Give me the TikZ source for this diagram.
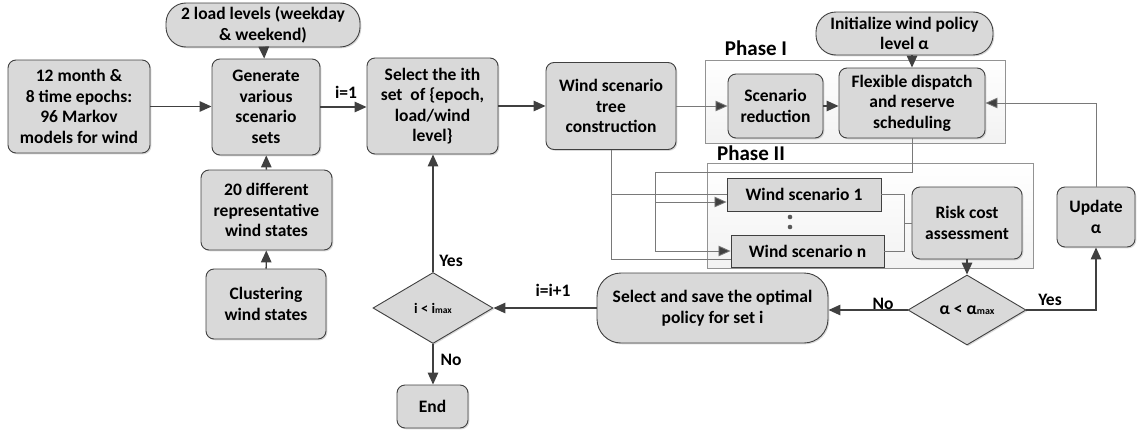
\documentclass[tikz,border=0pt]{standalone}
\usepackage{fontspec}
\setmainfont{Carlito}
\usetikzlibrary{arrows.meta,shapes.geometric,shadows,calc}
\begin{document}
\begin{tikzpicture}[x=1pt,y=-1pt,
  base/.style={font=\bfseries\fontsize{17.5}{20.5}\selectfont, text=black, align=center},
  box/.style={base, draw=black!75, fill=gray!30, line width=0.9pt, rounded corners=8pt, inner sep=0pt,
    drop shadow={shadow xshift=1.3pt, shadow yshift=-1.3pt, opacity=0.3, fill=gray}},
  pill/.style={box, rounded corners=20pt},
  sharp/.style={box, rounded corners=0pt},
  dia/.style={base, diamond, draw=black!75, fill=gray!30, line width=0.9pt, inner sep=0pt, aspect=1.7,
    drop shadow={shadow xshift=1.3pt, shadow yshift=-1.3pt, opacity=0.3, fill=gray}},
  phase/.style={draw=gray!85, top color=white, bottom color=gray!10, line width=0.8pt, inner sep=0pt,
    drop shadow={shadow xshift=1.3pt, shadow yshift=-1.3pt, opacity=0.2, fill=gray}},
  lbl/.style={base},
  conn/.style={draw=black!75, line width=1.4pt, -{Triangle[length=12pt,width=10.5pt]}},
  thinl/.style={draw=gray!95!black, line width=0.8pt},
  thina/.style={thinl, -{Triangle[length=12pt,width=10.5pt]}, arrows={[fill=black!75]}}
]
\useasboundingbox (0,0) rectangle (1137,431);

% phase frames
\node[phase, minimum width=300pt, minimum height=83pt] (ph1) at (855,101.5) {};
\node[phase, minimum width=326pt, minimum height=105pt] (ph2) at (870,215.5) {};
\node[lbl, font=\bfseries\fontsize{21}{22}\selectfont] (p1) at (756,48) {Phase I};
\node[lbl, font=\bfseries\fontsize{21}{22}\selectfont] (p2) at (751,153) {Phase II};

% nodes
\node[box, minimum width=142pt, minimum height=93pt] (A) at (79,106.5) {12 month \&\\8 time epochs:\\96 Markov\\models for wind};
\node[pill, minimum width=194pt, minimum height=44pt] (L) at (263,25) {2 load levels (weekday\\\& weekend)};
\node[box, minimum width=108pt, minimum height=96pt] (G) at (266,107) {Generate\\various\\scenario\\sets};
\node[box, minimum width=131pt, minimum height=80pt] (R) at (266.5,210) {20 different\\representative\\wind states};
\node[box, minimum width=120pt, minimum height=70pt] (C) at (266,304) {Clustering\\wind states};
\node[box, minimum width=131pt, minimum height=96pt] (S) at (432.5,106) {Select the ith\\set\ \ of \{epoch,\\load/wind\\level\}};
\node[box, minimum width=130pt, minimum height=87pt] (T) at (611,106) {Wind scenario\\tree\\construction};
\node[box, minimum width=95pt, minimum height=64pt] (SR) at (775.5,106) {Scenario\\reduction};
\node[box, minimum width=146pt, minimum height=70pt] (F) at (912,103) {Flexible dispatch\\and reserve\\scheduling};
\node[pill, minimum width=177pt, minimum height=43pt] (I) at (904.5,33.5) {Initialize wind policy\\level α};
\node[sharp, minimum width=154pt, minimum height=33pt] (W1) at (804,194.5) {Wind scenario 1};
\node[sharp, minimum width=153pt, minimum height=32pt] (WN) at (807.5,251) {Wind scenario n};
\fill[gray!70!black] (790,217) circle (2.3pt) (790,227) circle (2.3pt);
\node[box, minimum width=110pt, minimum height=72pt] (RC) at (967,223) {Risk cost\\assessment};
\node[box, minimum width=78pt, minimum height=60pt] (U) at (1096,217) {Update\\α};
\node[dia, minimum width=118pt, minimum height=70pt] (D2) at (967,310) {α < α{\fontsize{10}{10}\selectfont max}};
\node[pill, rounded corners=24pt, minimum width=231pt, minimum height=70pt] (SS) at (712.5,308) {Select and save the optimal\\policy for set i};
\node[dia, minimum width=120pt, minimum height=71pt, font=\bfseries\fontsize{14.5}{16}\selectfont] (D1) at (433,308) {i < i{\fontsize{9.5}{9.5}\selectfont max}};
\node[box, minimum width=71pt, minimum height=43pt] (E) at (432.5,406.5) {End};

% labels
\node[lbl] (l1) at (346,92) {i=1};
\node[lbl] (l2) at (553,290) {i=i+1};
\node[lbl] (l3) at (451,261) {Yes};
\node[lbl] (l4) at (451,360) {No};
\node[lbl] (l5) at (883,304) {No};
\node[lbl] (l6) at (1050,300) {Yes};

% connectors
\draw[conn] (A.east) -- (A.east -| G.west);
\draw[conn] (L) -- (G);
\draw[conn] (R) -- (G);
\draw[conn] (C) -- (R);
\draw[conn] (G.east) -- (G.east -| S.west);
\draw[conn] (S.east) -- (S.east -| T.west);
\draw[thina] (T.east) -- (T.east -| SR.west);
\draw[conn] (SR.east) -- (SR.east -| F.west);
\draw[conn] (F.north |- I.south) -- (F.north);
\draw[thina] (U.north) |- (F.east);

\coordinate (fk) at (655,172);
\draw[thinl] (F.south) |- (fk);
\draw[thina] (fk) |- ([yshift=-7.5pt]W1.west);
\draw[thina] (fk) |- (WN.west);
\draw[thinl] (T.south) |- (W1.west);
\draw[thinl] (T.south) |- ([yshift=-8pt]WN.west);

\coordinate (jn) at (904,223);
\draw[thinl] (W1.east) -| (jn) |- (WN.east);
\draw[thinl] (jn) -- (RC.west);

\draw[conn] (RC.south) -- (D2.north);
\draw[conn] (D2.east) -| (U.south);
\draw[conn] (D2.west) -- (D2.west -| SS.east);
\draw[conn] (SS.west) -- (D1.east);
\draw[conn] (D1.north) -- (D1.north |- S.south);
\draw[conn] (D1.south) -- (D1.south |- E.north);
\end{tikzpicture}
\end{document}
